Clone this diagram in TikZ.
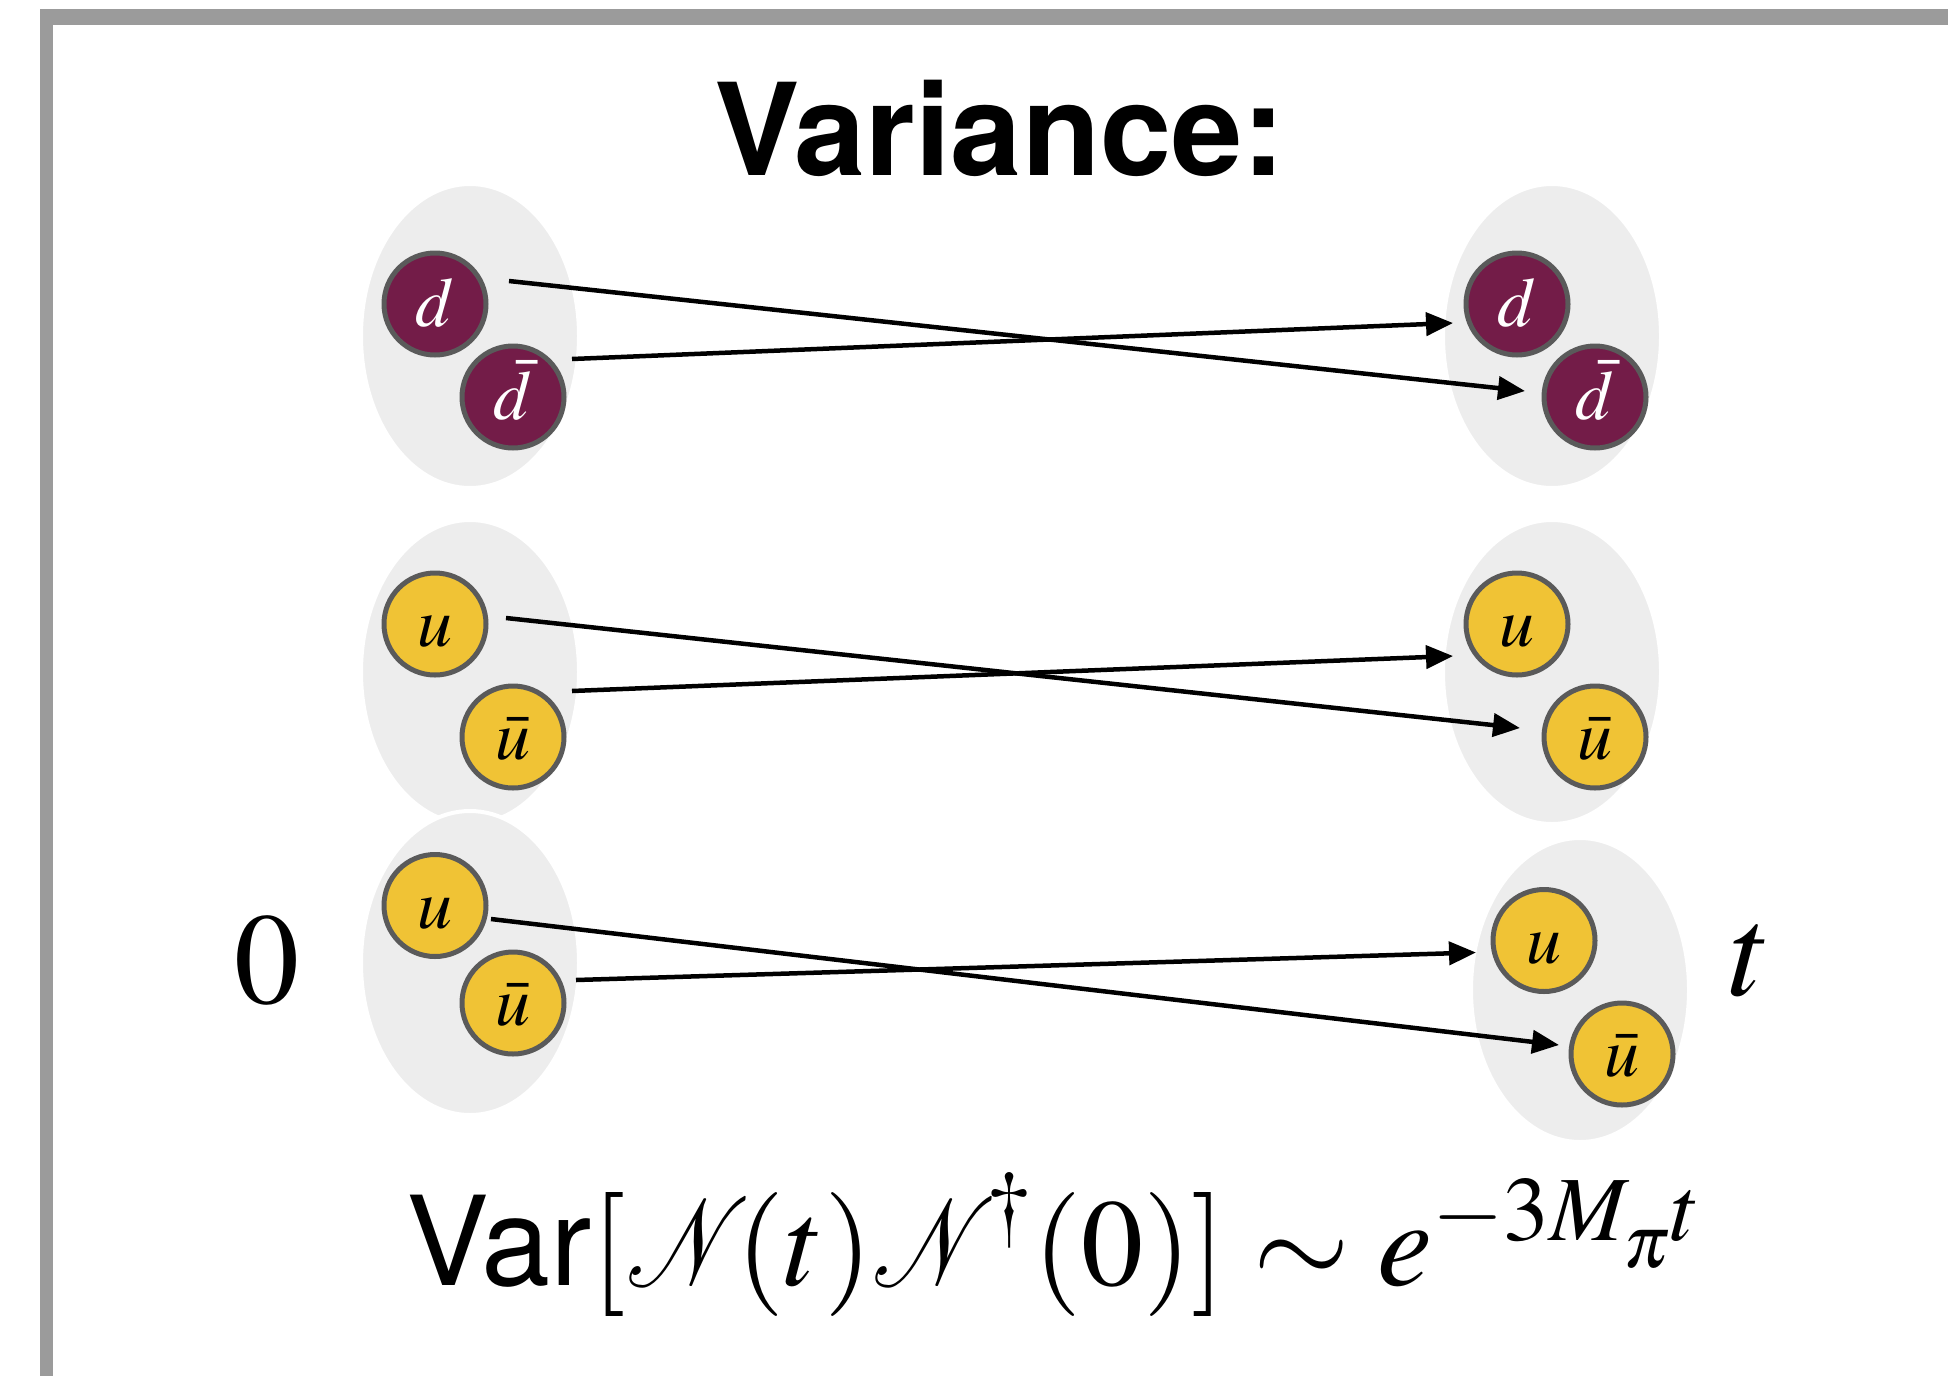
\documentclass[tikz,border=0pt]{standalone}
\usepackage{mathptmx}
\usepackage[no-math]{fontspec}
\setsansfont{TeX Gyre Heros}
\setmainfont{Liberation Serif}
\usetikzlibrary{arrows.meta}
\definecolor{quarkmaroon}{HTML}{731C48}
\definecolor{quarkgold}{HTML}{F0C335}
\definecolor{ringgray}{HTML}{5A5A5A}
\definecolor{blobgray}{HTML}{EDEDED}
\definecolor{framegray}{HTML}{9B9B9B}
\newcommand{\calN}{\scalebox{0.8}[1]{$\mathcal{N}$}}
\tikzset{
  quark/.style={circle, draw=ringgray, line width=5pt, minimum size=102pt, inner sep=0pt,
    font=\fontsize{70}{70}\selectfont, text height=45pt, text depth=0pt},
  dquark/.style={quark, fill=quarkmaroon, text=white},
  uquark/.style={quark, fill=quarkgold, text=black},
  blob/.style={fill=blobgray, draw=white, line width=4pt},
  flow/.style={line width=4.5pt, -{Triangle[length=27pt,width=23pt]}},
  biglabel/.style={font=\fontsize{130}{130}\selectfont, inner sep=0pt}
}
\begin{document}
\begin{tikzpicture}[x=1pt,y=-1pt]
\useasboundingbox (0,0) rectangle (1948,1376);
\clip (0,0) rectangle (1948,1376);
\fill[white] (0,0) rectangle (1948,1376);
% frame
\fill[framegray] (40,9) rectangle (1948,25);
\fill[framegray] (40,9) rectangle (53,1376);
% title
\node[anchor=base, font=\sffamily\bfseries\fontsize{128}{128}\selectfont, inner sep=0pt] (title) at (1000,175) {Variance:};
% blobs
\path[blob] (470,336) ellipse [x radius=109pt, y radius=152pt];
\path[blob] (1552,336) ellipse [x radius=109pt, y radius=152pt];
\path[blob] (470,672) ellipse [x radius=109pt, y radius=152pt];
\path[blob] (1552,672) ellipse [x radius=109pt, y radius=152pt];
\path[blob] (470,963) ellipse [x radius=109pt, y radius=152pt];
\path[blob] (1580,990) ellipse [x radius=109pt, y radius=152pt];
% quarks
\node[dquark] (d0) at (435,304) {$d$};
\node[dquark] (db0) at (513,397) {$\bar{d}$};
\node[dquark] (dT) at (1517,304) {$d$};
\node[dquark] (dbT) at (1595,397) {$\bar{d}$};
\node[uquark] (u0m) at (435,624) {$u$};
\node[uquark] (ub0m) at (513,737) {$\bar{u}$};
\node[uquark] (uTm) at (1517,624) {$u$};
\node[uquark] (ubTm) at (1595,737) {$\bar{u}$};
\node[uquark] (u0b) at (435,905.5) {$u$};
\node[uquark] (ub0b) at (513,1003) {$\bar{u}$};
\node[uquark] (uTb) at (1544,940.5) {$u$};
\node[uquark] (ubTb) at (1622,1054) {$\bar{u}$};
% arrows
\draw[flow] ([shift={(74,-23)}]d0.center) -- ([shift={(-70,-6)}]dbT.center);
\draw[flow] ([shift={(59,-38)}]db0.center) -- ([shift={(-64,19)}]dT.center);
\draw[flow] ([shift={(71,-6)}]u0m.center) -- ([shift={(-75,-9)}]ubTm.center);
\draw[flow] ([shift={(59,-46)}]ub0m.center) -- ([shift={(-64,32)}]uTm.center);
\draw[flow] ([shift={(56,13.5)}]u0b.center) -- ([shift={(-63,-9)}]ubTb.center);
\draw[flow] ([shift={(63,-23)}]ub0b.center) -- ([shift={(-68,12)}]uTb.center);
% time labels
\node[biglabel] (zero) at (267,961) {$0$};
\node[biglabel] (tlab) at (1751,961) {$t$};
% formula
\node[anchor=base west, inner sep=0pt, font=\fontsize{124}{124}\selectfont] (formula) at (406,1285)
  {\sffamily Var\rmfamily$[\calN\!(t)\calN^{\!\dagger}(0)]\sim e^{-3M_{\lower 14pt\hbox{$\scriptscriptstyle\pi$}}t}$};
\end{tikzpicture}
\end{document}
